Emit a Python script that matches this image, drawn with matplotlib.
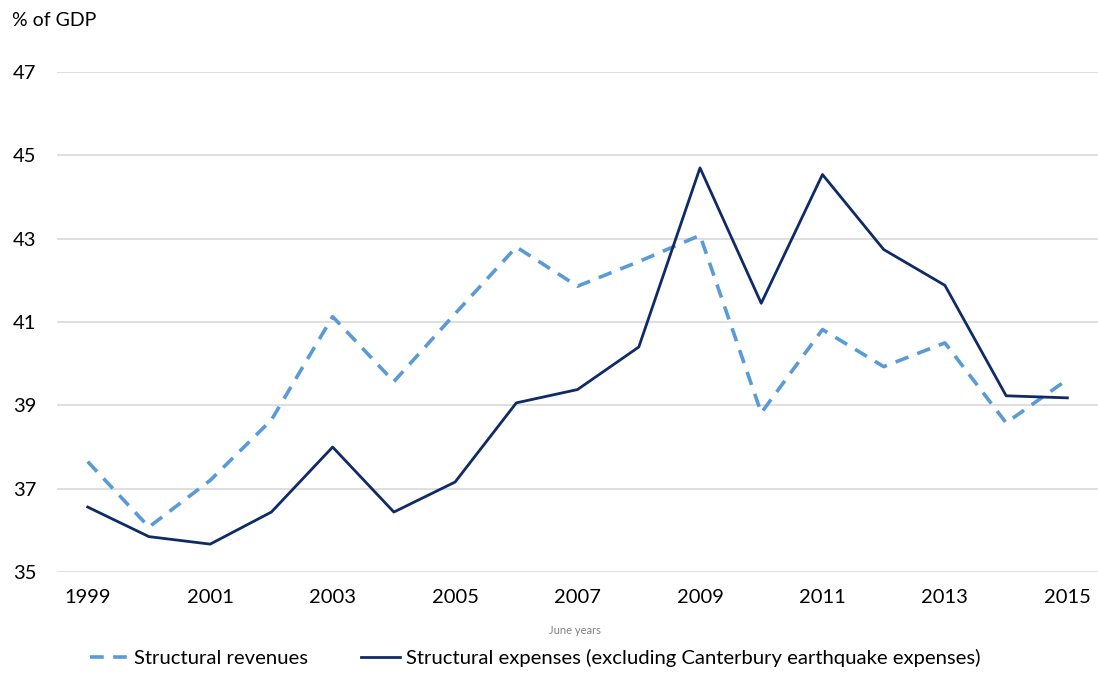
import numpy as np
import matplotlib
matplotlib.use("Agg")
import matplotlib.pyplot as plt
from matplotlib.lines import Line2D

plt.rcParams['font.family'] = ['Lato', 'DejaVu Sans']

years = np.arange(1999, 2016)
revenues = [37.65, 36.08, 37.2, 38.65, 41.13, 39.57, 41.2, 42.8, 41.86, 42.45,
            43.08, 38.82, 40.82, 39.93, 40.5, 38.58, 39.62]
expenses = [36.56, 35.85, 35.67, 36.44, 38.0, 36.44, 37.16, 39.06, 39.38, 40.4,
            44.7, 41.45, 44.54, 42.74, 41.88, 39.23, 39.18]
yticks = [35, 37, 39, 41, 43, 45, 47]
xticks = list(range(1999, 2016, 2))

rev_col = '#5B9BD5'
exp_col = '#0E2A67'

fig = plt.figure(figsize=(10.98, 6.73), dpi=100)
ax = fig.add_axes([0.052, 0.150, 0.948, 0.743])

ax.plot(years, revenues, color=rev_col, lw=2.6, linestyle=(0, (3.8, 2.6)),
        label='Structural revenues')
ax.plot(years, expenses, color=exp_col, lw=2.0,
        label='Structural expenses (excluding Canterbury earthquake expenses)')

ax.set_xlim(1998.5, 2015.5)
ax.set_ylim(35, 47)
ax.set_yticks(yticks)
ax.set_xticks(xticks)
ax.yaxis.grid(True, color='#D9D9D9', lw=1.2)
ax.set_axisbelow(True)
for s in ax.spines.values():
    s.set_visible(False)
ax.tick_params(axis='both', length=0, labelsize=14.5, colors='black')
ax.tick_params(axis='y', pad=15)
ax.tick_params(axis='x', pad=12)

fig.text(12 / 1098, 1 - 20 / 673, '% of GDP', fontsize=14, va='center', ha='left')
fig.text(575 / 1098, 1 - 630 / 673, 'June years', fontsize=8, color='#808080',
         va='center', ha='center')

handles = [Line2D([], [], color=rev_col, lw=2.6, linestyle=(0, (3.8, 2.6))),
           Line2D([], [], color=exp_col, lw=2.0)]
fig.legend(handles, ['Structural revenues',
                     'Structural expenses (excluding Canterbury earthquake expenses)'],
           loc='center', bbox_to_anchor=(535 / 1098, 1 - 658 / 673), ncol=2,
           frameon=False, fontsize=14.6, handlelength=1.9, handletextpad=0.3,
           columnspacing=2.6)

fig.savefig('out.png', dpi=100)
